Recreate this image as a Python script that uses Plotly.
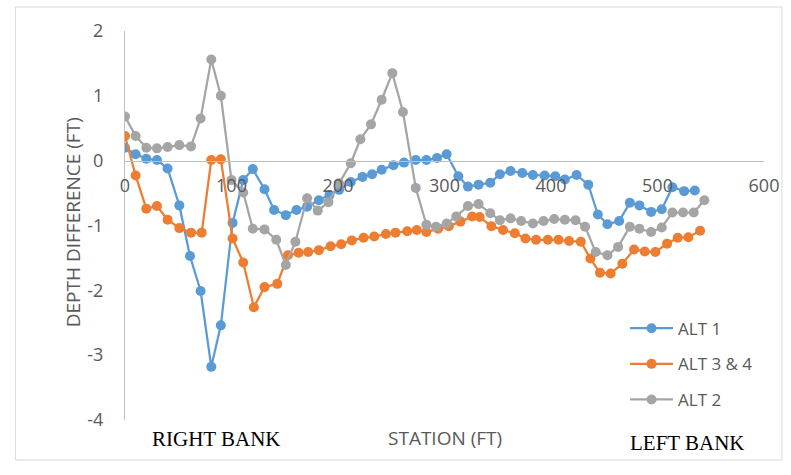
import plotly.graph_objects as go

# Depth difference along the cross-section for each alternative
alt1_station = [0, 10, 20, 30, 40, 51, 61, 71, 81, 90, 101, 111, 120, 131, 140,
                151, 161, 171, 182, 192, 201, 212, 223, 232, 241, 252, 262, 273,
                283, 293, 302, 313, 322, 332, 343, 352, 362, 373, 383, 394, 404,
                413, 424, 435, 444, 453, 464, 474, 483, 494, 504, 514, 525, 535]
alt1_depth = [0.20, 0.10, 0.03, 0.01, -0.12, -0.69, -1.47, -2.01, -3.18, -2.54,
              -0.96, -0.30, -0.13, -0.44, -0.76, -0.84, -0.76, -0.71, -0.61, -0.53,
              -0.45, -0.33, -0.25, -0.21, -0.14, -0.07, -0.03, 0.01, 0.01, 0.04,
              0.10, -0.24, -0.40, -0.37, -0.34, -0.21, -0.16, -0.19, -0.22, -0.23,
              -0.24, -0.29, -0.22, -0.37, -0.83, -0.98, -0.93, -0.65, -0.69, -0.79,
              -0.75, -0.41, -0.47, -0.46]

alt34_station = [0, 10, 20, 30, 40, 51, 62, 72, 81, 90, 101, 111, 121, 131, 143,
                 153, 163, 172, 182, 193, 203, 213, 224, 234, 245, 254, 265, 274,
                 283, 294, 304, 315, 326, 333, 344, 355, 366, 376, 386, 397, 407,
                 417, 428, 437, 446, 456, 467, 478, 488, 498, 509, 519, 529, 540]
alt34_depth = [0.38, -0.23, -0.74, -0.70, -0.91, -1.04, -1.11, -1.11, 0.01, 0.02,
               -1.20, -1.57, -2.26, -1.95, -1.90, -1.46, -1.42, -1.41, -1.38, -1.32,
               -1.29, -1.23, -1.19, -1.17, -1.13, -1.11, -1.09, -1.07, -1.10, -1.05,
               -1.01, -0.94, -0.86, -0.87, -1.01, -1.07, -1.12, -1.20, -1.22, -1.22,
               -1.22, -1.24, -1.25, -1.51, -1.73, -1.74, -1.59, -1.37, -1.40, -1.41,
               -1.28, -1.19, -1.18, -1.08]

alt2_station = [0, 10, 20, 30, 40, 51, 62, 71, 81, 90, 100, 111, 120, 131, 142,
                151, 160, 171, 181, 191, 201, 212, 221, 231, 241, 251, 261, 273,
                283, 292, 302, 311, 322, 332, 343, 352, 362, 372, 383, 393, 403,
                413, 423, 432, 442, 453, 463, 474, 483, 494, 504, 514, 524, 534, 544]
alt2_depth = [0.68, 0.38, 0.20, 0.19, 0.21, 0.24, 0.22, 0.65, 1.56, 1.00,
              -0.30, -0.49, -1.05, -1.06, -1.22, -1.61, -1.25, -0.58, -0.77, -0.64,
              -0.35, -0.04, 0.33, 0.56, 0.94, 1.35, 0.75, -0.42, -0.99, -1.02,
              -0.97, -0.86, -0.70, -0.67, -0.81, -0.92, -0.89, -0.93, -0.97, -0.93,
              -0.90, -0.91, -0.92, -1.02, -1.41, -1.46, -1.33, -1.02, -1.05, -1.10,
              -1.03, -0.80, -0.80, -0.80, -0.61]

# axis ticks (plain hyphen for negatives)
y_tick_values = [-4, -3, -2, -1, 0, 1, 2]
y_tick_labels = ["-4", "-3", "-2", "-1", "0", "1", "2"]
x_tick_values = [0, 100, 200, 300, 400, 500, 600]
x_tick_labels = ["0", "100", "200", "300", "400", "500", "600"]

series = [
    ("ALT 1", alt1_station, alt1_depth, "#5B9BD5"),
    ("ALT 3 & 4", alt34_station, alt34_depth, "#ED7D31"),
    ("ALT 2", alt2_station, alt2_depth, "#A5A5A5"),
]

AXIS_GRAY = "#595959"
LINE_GRAY = "#BFBFBF"
TEXT_FONT = "Open Sans"
BANK_FONT = "Liberation Serif"

fig = go.Figure()
for i, (name, xs, ys, color) in enumerate(series):
    fig.add_trace(go.Scatter(
        x=xs, y=ys, name=name, mode="lines+markers",
        line=dict(color=color, width=2.25),
        marker=dict(color=color, size=10),
        legendgroup=f"g{i}",
    ))

# y range [-4, 2]; the station axis crosses at depth 0
y_min, y_max = -4, 2
x_axis_pos = (0 - y_min) / (y_max - y_min)

fig.update_layout(
    width=791, height=475,
    margin=dict(l=125, r=24, t=31, b=55),
    paper_bgcolor="white", plot_bgcolor="white",
    font=dict(family=TEXT_FONT, size=17, color=AXIS_GRAY),
    xaxis=dict(
        range=[0, 600], tickmode="array", tickvals=x_tick_values,
        ticktext=x_tick_labels, showgrid=False, zeroline=False,
        showline=True, linecolor=LINE_GRAY, linewidth=1,
        anchor="free", position=x_axis_pos, ticks="",
        ticklabelstandoff=9,
        tickfont=dict(family=TEXT_FONT, size=18, color=AXIS_GRAY),
    ),
    yaxis=dict(
        range=[y_min, y_max], tickmode="array", tickvals=y_tick_values,
        ticktext=y_tick_labels, showgrid=False, zeroline=False,
        showline=True, linecolor=LINE_GRAY, linewidth=1, ticks="",
        ticklabelstandoff=17,
        tickfont=dict(family=TEXT_FONT, size=18, color=AXIS_GRAY),
    ),
    legend=dict(
        x=0.7825, y=0.281, xanchor="left", yanchor="top",
        bgcolor="rgba(0,0,0,0)", borderwidth=0,
        font=dict(family=TEXT_FONT, size=17, color=AXIS_GRAY),
        itemwidth=43, tracegroupgap=10.5, traceorder="grouped",
    ),
    showlegend=True,
)

# chart area border
fig.add_shape(
    type="rect", xref="paper", yref="paper",
    x0=-0.1713, x1=1.028, y0=-0.1028, y1=1.0617,
    line=dict(color="#D9D9D9", width=1), fillcolor="rgba(0,0,0,0)", layer="below",
)

fig.add_annotation(
    text="DEPTH DIFFERENCE (FT)", xref="paper", yref="paper",
    x=-0.081, y=0.509, xanchor="center", yanchor="middle",
    textangle=-90, showarrow=False,
    font=dict(family=TEXT_FONT, size=19, color=AXIS_GRAY),
)
fig.add_annotation(
    text="STATION (FT)", xref="paper", yref="paper",
    x=0.5, y=-0.0463, xanchor="center", yanchor="middle", showarrow=False,
    font=dict(family=TEXT_FONT, size=19, color=AXIS_GRAY),
)
fig.add_annotation(
    text="RIGHT BANK", xref="paper", yref="paper",
    x=0.039, y=-0.0488, xanchor="left", yanchor="middle", showarrow=False,
    font=dict(family=BANK_FONT, size=21, color="black"),
)
fig.add_annotation(
    text="LEFT BANK", xref="paper", yref="paper",
    x=0.7866, y=-0.059, xanchor="left", yanchor="middle", showarrow=False,
    font=dict(family=BANK_FONT, size=21, color="black"),
)

fig.write_html("out.html")
